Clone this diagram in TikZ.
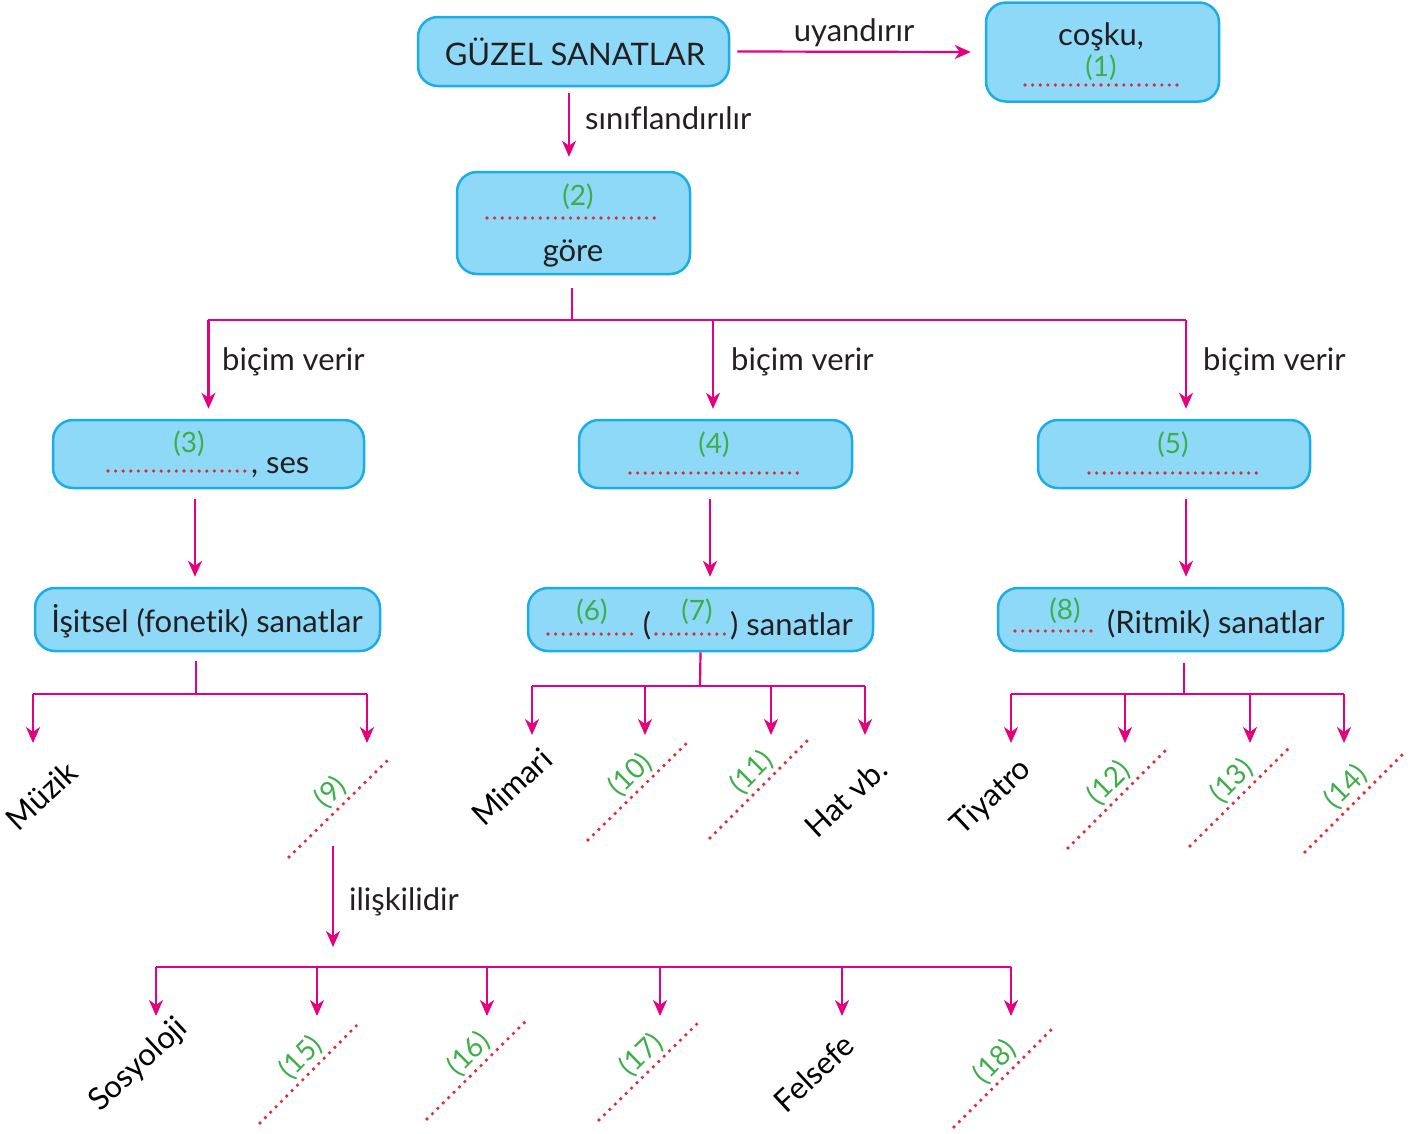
\documentclass[tikz,border=0pt]{standalone}
\usepackage{fontspec}
\setmainfont{Lato}[Ligatures={NoCommon}]
\usetikzlibrary{arrows.meta,calc}
\definecolor{boxfill}{HTML}{8ED8F8}
\definecolor{boxline}{HTML}{1BADE6}
\definecolor{mag}{HTML}{E5007D}
\definecolor{numgreen}{HTML}{3DAE49}
\definecolor{dotred}{HTML}{E02A36}
\definecolor{ink}{HTML}{231F20}
\tikzset{
 box/.style={draw=boxline, fill=boxfill, line width=2.5pt, rounded corners=20pt, inner sep=0pt},
 conn/.style={draw=mag, line width=2.2pt},
 arr/.style={conn, -{Stealth[length=16pt,width=14pt,inset=5pt]}},
 txt/.style={font=\fontsize{31}{35}\selectfont, text=ink, inner sep=0pt},
 num/.style={font=\fontsize{28}{32}\selectfont, text=numgreen, inner sep=0pt},
 dotline/.style={draw=dotred, line width=3.6pt, line cap=round, dash pattern=on 0pt off 7.6pt},
 rot/.style={txt, text=black, rotate=43, anchor=east},
 blanknum/.style={num, sloped, above=2pt, pos=0.53},
}
\begin{document}
\begin{tikzpicture}[x=1pt,y=-1pt]
\useasboundingbox (0,0) rectangle (1423,1133);
% boxes
\node[box, minimum width=311pt, minimum height=69pt] (guzel) at (573.5,51.5) {};
\node[txt, anchor=base] (guzelt) at (575,65) {GÜZEL SANATLAR};
\node[box, minimum width=233pt, minimum height=99pt] (cosku) at (1102.5,52) {};
\node[box, minimum width=233pt, minimum height=102pt] (b2) at (573.5,223) {};
\node[box, minimum width=311pt, minimum height=68pt] (b3) at (208.5,454) {};
\node[box, minimum width=273pt, minimum height=68pt] (b4) at (715.5,454) {};
\node[box, minimum width=272pt, minimum height=68pt] (b5) at (1174,454) {};
\node[box, minimum width=345pt, minimum height=63pt] (b6) at (207.5,619.5) {};
\node[box, minimum width=345pt, minimum height=63pt] (b7) at (700.5,619.5) {};
\node[box, minimum width=345pt, minimum height=63pt] (b8) at (1170.5,619.5) {};
% box contents
\node[txt, anchor=base] (coskut) at (1101,45) {coşku,};
\draw[dotline] (1025,85) -- (1177,85);
\node[num] (n1) at (1101,68) {(1)};
\draw[dotline] (487,218) -- (659,218);
\node[num] (n2) at (578,197) {(2)};
\node[txt, anchor=base] (gore) at (573,261) {göre};
\draw[dotline] (108,471) -- (248,471);
\node[num] (n3) at (189,444) {(3)};
\node[txt, anchor=base west] (ses) at (251,473) {, ses};
\draw[dotline] (630,473) -- (803,473);
\node[num] (n4) at (714,445) {(4)};
\draw[dotline] (1089,473) -- (1262,473);
\node[num] (n5) at (1173,445) {(5)};
\node[txt, anchor=base] (isitsel) at (207,632) {İşitsel (fonetik) sanatlar};
\draw[dotline] (548,634) -- (632,634);
\node[num] (n6) at (592,612) {(6)};
\node[txt, anchor=base] (par) at (647,635) {(};
\draw[dotline] (656,634) -- (728,634);
\node[num] (n7) at (697,612) {(7)};
\node[txt, anchor=base west] (sanat7) at (730,635) {) sanatlar};
\draw[dotline] (1015,631) -- (1098,631);
\node[num] (n8) at (1065,611) {(8)};
\node[txt, anchor=base west] (ritmik) at (1107,633) {(Ritmik) sanatlar};
% top connectors
\draw[arr] ($(guzel.east)+(7,0)$) -- ($(cosku.west)+(-14,0)$)
  node[midway, txt, anchor=base, yshift=10pt] (uy) {uyandırır};
\draw[arr] ($(guzel.south)+(-4.5,6)$) -- ($(b2.north)+(-4.5,-14)$);
\node[txt, anchor=base west] (sinif) at (585,129) {sınıflandırılır};
% tree from b2
\coordinate (j2) at (572,320);
\draw[conn] ($(b2.south)+(-1.5,13)$) -- (j2);
\draw[conn] (208,320) -- (1186,320);
\draw[arr] (b3.north |- j2) -- ($(b3.north)+(0,-10)$);
\draw[arr] ($(b4.north |- j2)+(-2.5,0)$) -- ($(b4.north)+(-2.5,-10)$);
\draw[arr] ($(b5.north |- j2)+(12,0)$) -- ($(b5.north)+(12,-10)$);
\node[txt, anchor=base west] (bv1) at (222,370) {biçim verir};
\node[txt, anchor=base west] (bv2) at (731,370) {biçim verir};
\node[txt, anchor=base west] (bv3) at (1203,370) {biçim verir};
% box to box
\draw[arr] ($(b3.south)+(-13.5,10)$) -- ($(b6.north)+(-12.5,-10)$);
\draw[arr] ($(b4.south)+(-5.5,10)$) -- ($(b7.north)+(9.5,-10)$);
\draw[arr] ($(b5.south)+(12,10)$) -- ($(b8.north)+(15.5,-10)$);
% leaves of b6
\coordinate (j6) at (196,694);
\draw[conn] ($(b6.south)+(-11.5,9)$) -- (j6);
\draw[conn] (33,694) -- (367,694);
\coordinate (t61) at (33,743);
\coordinate (t62) at (367,743);
\draw[arr] (t61 |- j6) -- (t61);
\draw[arr] (t62 |- j6) -- (t62);
\node[rot] (muzik) at (72,767) {Müzik};
\coordinate (d9a) at (289,857); \coordinate (d9b) at (390,758);
\draw[dotline] (d9a) -- (d9b) node[blanknum] (n9) {(9)};
% leaves of b7
\coordinate (j7) at (700,686);
\draw[conn] (b7.south) -- (j7);
\draw[conn] (532,686) -- (865,686);
\coordinate (t71) at (532,735);
\coordinate (t72) at (645,735);
\coordinate (t73) at (771,735);
\coordinate (t74) at (865,735);
\foreach \t in {t71,t72,t73,t74} \draw[arr] (\t |- j7) -- (\t);
\node[rot] (mimari) at (547,754) {Mimari};
\coordinate (d10a) at (588,840); \coordinate (d10b) at (690,740);
\draw[dotline] (d10a) -- (d10b) node[blanknum] (n10) {(10)};
\coordinate (d11a) at (710,838); \coordinate (d11b) at (811,737);
\draw[dotline] (d11a) -- (d11b) node[blanknum] (n11) {(11)};
\node[rot] (hat) at (882,764) {Hat vb.};
% leaves of b8
\coordinate (j8) at (1184,694);
\draw[conn] ($(b8.south)+(13.5,11)$) -- (j8);
\draw[conn] (1011,694) -- (1344,694);
\coordinate (t81) at (1011,743);
\coordinate (t82) at (1125,743);
\coordinate (t83) at (1250,743);
\coordinate (t84) at (1344,743);
\foreach \t in {t81,t82,t83,t84} \draw[arr] (\t |- j8) -- (\t);
\node[rot] (tiyatro) at (1027,765) {Tiyatro};
\coordinate (d12a) at (1068,848); \coordinate (d12b) at (1168,748);
\draw[dotline] (d12a) -- (d12b) node[blanknum] (n12) {(12)};
\coordinate (d13a) at (1190,846); \coordinate (d13b) at (1291,746);
\draw[dotline] (d13a) -- (d13b) node[blanknum] (n13) {(13)};
\coordinate (d14a) at (1305,852); \coordinate (d14b) at (1405,752);
\draw[dotline] (d14a) -- (d14b) node[blanknum] (n14) {(14)};
% ilişkilidir
\coordinate (il1) at (333,846);
\coordinate (il2) at (333,947);
\draw[arr] (il1) -- (il2);
\node[txt, anchor=base west] (iliski) at (349,910) {ilişkilidir};
% bottom tree
\coordinate (jb) at (156,967);
\draw[conn] (156,967) -- (1011,967);
\coordinate (tb1) at (156,1016);
\coordinate (tb2) at (317,1016);
\coordinate (tb3) at (487,1016);
\coordinate (tb4) at (660,1016);
\coordinate (tb5) at (842,1016);
\coordinate (tb6) at (1011,1016);
\foreach \t in {tb1,tb2,tb3,tb4,tb5,tb6} \draw[arr] (\t |- jb) -- (\t);
\node[rot] (sosyoloji) at (183,1024) {Sosyoloji};
\coordinate (d15a) at (260,1123); \coordinate (d15b) at (360,1022);
\draw[dotline] (d15a) -- (d15b) node[blanknum] (n15) {(15)};
\coordinate (d16a) at (427,1119); \coordinate (d16b) at (528,1019);
\draw[dotline] (d16a) -- (d16b) node[blanknum] (n16) {(16)};
\coordinate (d17a) at (599,1120); \coordinate (d17b) at (701,1020);
\draw[dotline] (d17a) -- (d17b) node[blanknum] (n17) {(17)};
\node[rot] (felsefe) at (849,1040) {Felsefe};
\coordinate (d18a) at (954,1127); \coordinate (d18b) at (1054,1027);
\draw[dotline] (d18a) -- (d18b) node[blanknum] (n18) {(18)};
\end{tikzpicture}
\end{document}
